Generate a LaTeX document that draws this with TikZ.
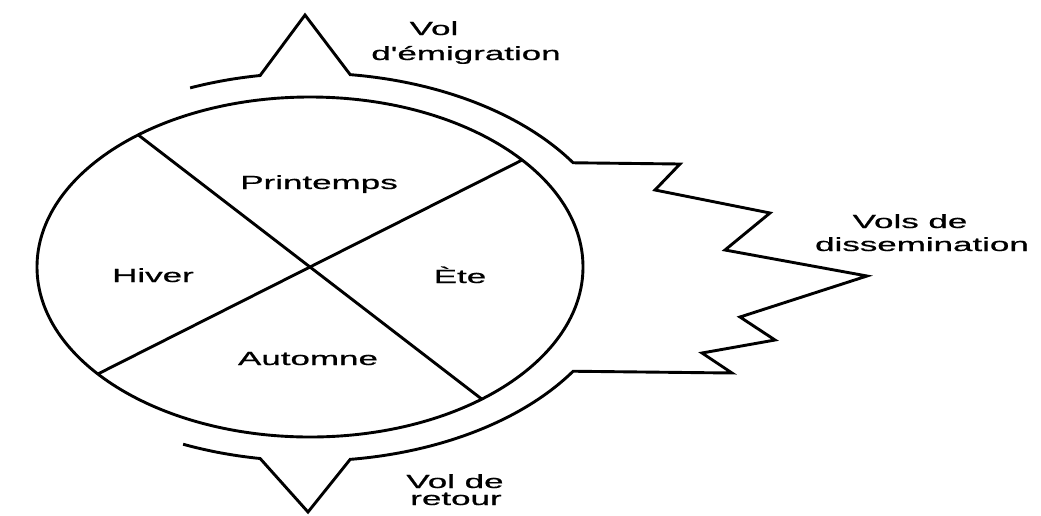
\documentclass[tikz,border=0pt]{standalone}
\usepackage{fontspec}
\setmainfont{Liberation Sans}
\newfontfamily\lblfont{Liberation Sans}[FakeBold=0.6]
\newcommand\stretchtxt[1]{\scalebox{1.84}[1]{#1}}
\begin{document}
\begin{tikzpicture}[x=1pt,y=-1pt,
  ln/.style={line width=2.9pt, line join=miter},
  lbl/.style={inner sep=0pt, anchor=base, font=\lblfont\fontsize{19}{22}\selectfont}]
\useasboundingbox[fill=white] (0,0) rectangle (1041,515);
% inner circle of seasons
\coordinate (c) at (310,267);
\draw[ln] (c) ellipse [x radius=273, y radius=170];
\coordinate (p1) at ({310+273*cos(129)},{267-170*sin(129)});
\coordinate (p3) at ({310+273*cos(-51)},{267-170*sin(-51)});
\coordinate (p2) at ({310+273*cos(39)},{267-170*sin(39)});
\coordinate (p4) at ({310+273*cos(219)},{267-170*sin(219)});
\draw[ln] (p1) -- (p3);
\draw[ln] (p2) -- (p4);
% outer flight outline
\coordinate (topapex) at (305,15);
\coordinate (botapex) at (308,512);
\coordinate (z0) at (680,164);
\coordinate (z1) at (655,190);
\coordinate (z2) at (770,213);
\coordinate (z3) at (725,250);
\coordinate (z4) at (867,276);
\coordinate (z5) at (740,317);
\coordinate (z6) at (775,340);
\coordinate (z7) at (702,353);
\coordinate (z8) at (732,373);
\draw[ln]
  plot[domain=112.6:99.2, samples=20] ({310+312*cos(\x)},{267-194*sin(\x)})
  -- (topapex)
  -- plot[domain=82.6:32.5, samples=50] ({310+312*cos(\x)},{267-194*sin(\x)})
  -- (z0) -- (z1) -- (z2) -- (z3) -- (z4) -- (z5) -- (z6) -- (z7) -- (z8)
  -- plot[domain=-32.5:-82.6, samples=50] ({310+312*cos(\x)},{267-194*sin(\x)})
  -- (botapex)
  -- plot[domain=-99.2:-114, samples=20] ({310+312*cos(\x)},{267-194*sin(\x)});
% labels
\node[lbl] (printemps) at (319,189) {\stretchtxt{Printemps}};
\node[lbl] (hiver) at (153,282) {\stretchtxt{Hiver}};
\node[lbl] (ete) at (460,283) {\stretchtxt{Ète}};
\node[lbl] (automne) at (308,365) {\stretchtxt{Automne}};
\node[lbl] (vol1) at (434,35) {\stretchtxt{Vol}};
\node[lbl] (emig) at (466,60) {\stretchtxt{d'émigration}};
\node[lbl] (vols) at (910,228) {\stretchtxt{Vols de}};
\node[lbl] (dissem) at (922,251) {\stretchtxt{dissemination}};
\node[lbl] (vol2) at (455,488) {\stretchtxt{Vol de}};
\node[lbl] (retour) at (456,505) {\stretchtxt{retour}};
\end{tikzpicture}
\end{document}
